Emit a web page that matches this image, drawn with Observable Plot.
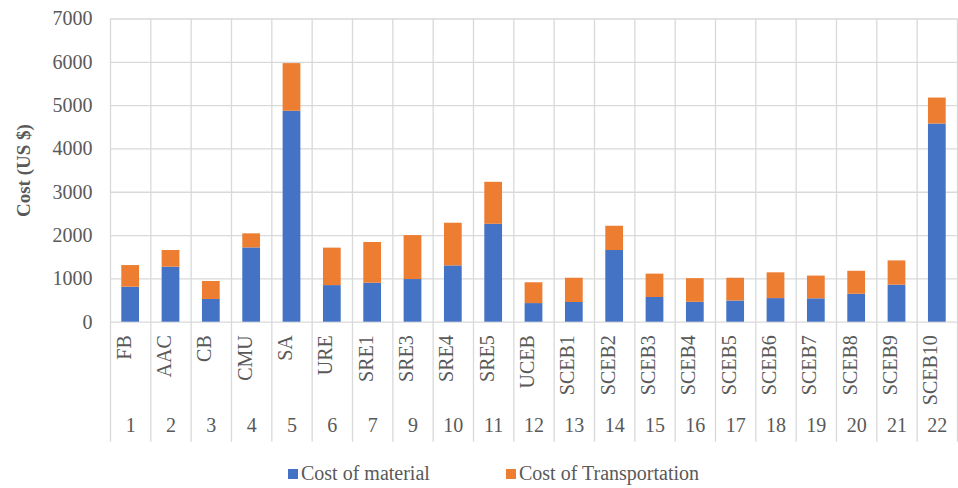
<!DOCTYPE html>
<html>
<head>
<meta charset="utf-8">
<script src="https://cdn.jsdelivr.net/npm/d3@7"></script>
<script src="https://cdn.jsdelivr.net/npm/@observablehq/plot@0.6"></script>
<style>
  body { margin: 0; background: #fff; }
  #wrap { position: relative; width: 958px; height: 488px; font-family: "Liberation Serif", serif; color: #595959; }
  #legend { position: absolute; left: 0; top: 462px; width: 958px; height: 26px; font-size: 20px; }
  .item { position: absolute; top: 0; display: flex; align-items: center; gap: 3px; }
  .sw { width: 10px; height: 10px; display: inline-block; }
</style>
</head>
<body>
<div id="wrap">
  <div id="chart"></div>
  <div id="legend"></div>
</div>
<script>
const names = ["FB","AAC","CB","CMU","SA","URE","SRE1","SRE3","SRE4","SRE5","UCEB","SCEB1","SCEB2","SCEB3","SCEB4","SCEB5","SCEB6","SCEB7","SCEB8","SCEB9","SCEB10"];
const ids = ["1","2","3","4","5","6","7","9","10","11","12","13","14","15","16","17","18","19","20","21","22"];
const material  = [808,1270,525,1715,4870,845,900,985,1300,2260,430,455,1655,570,460,490,545,540,645,855,4575];
const transport = [500,385,415,325,1100,865,940,1015,985,970,480,560,560,540,545,525,595,525,530,560,600];
const seriesNames = ["Cost of material","Cost of Transportation"];
const seriesColors = ["#4472C4","#ED7D31"];
const yTicks = [0,1000,2000,3000,4000,5000,6000,7000];
const yLabel = "Cost (US $)";

const data = names.flatMap((n, i) => [
  {name: n, series: seriesNames[0], value: material[i]},
  {name: n, series: seriesNames[1], value: transport[i]}
]);
const cats = names.map((n, i) => ({name: n, id: ids[i]}));

const W = 958, H = 458, mL = 110, mR = 1, mT = 18.5, mB = 136.3;
const step = (W - mL - mR) / names.length;
const grid = "#d9d9d9";

const chart = Plot.plot({
  width: W, height: H,
  marginLeft: mL, marginRight: mR, marginTop: mT, marginBottom: mB,
  style: {fontFamily: "Liberation Serif, serif", fontSize: "20px", color: "#595959", background: "#fff"},
  x: {domain: names, paddingInner: 0.56, paddingOuter: 0.28, round: false, axis: null},
  y: {domain: [0, 7000], axis: null},
  color: {domain: seriesNames, range: seriesColors},
  marks: [
    Plot.gridY(yTicks, {stroke: grid, strokeOpacity: 1, strokeWidth: 1.3}),
    Plot.ruleX(names, {x: d => d, dx: -step / 2, stroke: grid, strokeWidth: 1.3, insetBottom: -120}),
    Plot.ruleX([names[names.length - 1]], {x: d => d, dx: step / 2, stroke: grid, strokeWidth: 1.3, insetBottom: -120}),
    Plot.barY(data, {x: "name", y: "value", fill: "series"}),
    Plot.axisY(yTicks, {tickSize: 0, tickPadding: 18, label: null, tickFormat: d3.format("d"), fill: "#595959", fontSize: 20}),
    Plot.text(cats, {x: "name", text: "name", frameAnchor: "bottom", rotate: -90, textAnchor: "end", dy: 13, fill: "#595959", fontSize: 20}),
    Plot.text(cats, {x: "name", text: "id", frameAnchor: "bottom", dy: 110, fill: "#595959", fontSize: 20}),
    Plot.text([yLabel], {text: d => d, frameAnchor: "left", rotate: -90, textAnchor: "middle", dx: -87, fontWeight: "bold", fontSize: 19, fill: "#595959"})
  ]
});
document.getElementById("chart").appendChild(chart);

const legend = document.getElementById("legend");
const legendX = [288, 506];
seriesNames.forEach((s, i) => {
  const it = document.createElement("div");
  it.className = "item";
  it.style.left = legendX[i] + "px";
  it.innerHTML = `<span class="sw" style="background:${seriesColors[i]}"></span><span>${s}</span>`;
  legend.appendChild(it);
});
</script>
</body>
</html>
